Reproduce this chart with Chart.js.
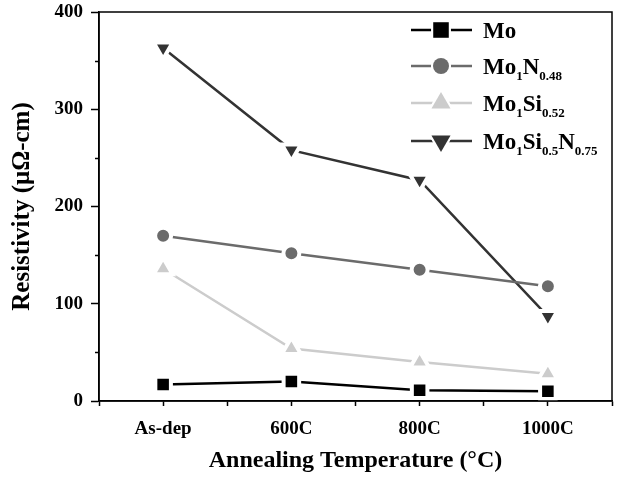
<!DOCTYPE html>
<html>
<head>
<meta charset="utf-8">
<script src="https://cdn.jsdelivr.net/npm/chart.js@4"></script>
<style>
  html, body { margin: 0; padding: 0; background: #fff; overflow: hidden; width: 617px; height: 479px; position: relative; }
  #wrap { position: absolute; left: 0; top: -3px; width: 627px; height: 482px; }
</style>
</head>
<body>
<div id="wrap"><canvas id="myChart"></canvas></div>
<script>
// 데이터 ----------------------------------------------
const categories = ['As-dep', '600C', '800C', '1000C'];
const moVals     = [17, 20, 11, 10];
const monVals    = [170, 152, 135, 118];
const mosiVals   = [136, 54, 40, 28];
const mosinVals  = [363, 258, 227, 87];
const yTicks     = [0, 100, 200, 300, 400];

// 범례 글자 (본문 + 아래첨자)
const legendParts = [
  [['Mo', 0]],
  [['Mo', 0], ['1', 1], ['N', 0], ['0.48', 1]],
  [['Mo', 0], ['1', 1], ['Si', 0], ['0.52', 1]],
  [['Mo', 0], ['1', 1], ['Si', 0], ['0.5', 1], ['N', 0], ['0.75', 1]]
];

const FONT = "'Liberation Serif', 'Times New Roman', serif";
const ctx = document.getElementById('myChart');

function pts(arr){ return arr.map((v,i) => ({ x: i, y: v })) }

function ds(label, arr, color, style, r, rot){
  return {
    label: label,
    data: pts(arr),
    borderColor: color,
    backgroundColor: color,
    borderWidth: 2.5,
    pointStyle: style,
    pointRadius: r,
    pointRotation: rot || 0,
    pointBackgroundColor: color,
    pointBorderColor: '#fff',
    pointBorderWidth: 4,
    tension: 0
  }
}

// 테두리 + 작은눈금 + 범례 직접 그리기
const extras = {
  id: 'extras',
  afterDraw(chart){
    const c = chart.ctx, a = chart.chartArea;
    c.save();
    c.strokeStyle = '#000';
    c.lineWidth = 1.5;
    c.strokeRect(a.left, a.top, a.right - a.left, a.bottom - a.top);
    // y 작은 눈금
    const ys = chart.scales.y;
    [50, 150, 250, 350].forEach(v => {
      const p = Math.round(ys.getPixelForValue(v)) + 0.5;
      c.beginPath(); c.moveTo(a.left - 4, p); c.lineTo(a.left, p); c.stroke();
    });
    // 범례 (캔버스가 3px 위로 올라가 있음)
    const lx1 = 411, lx2 = 472, mx = 441, tx = 483;
    const rows = [33, 69, 106, 144];
    chart.data.datasets.forEach((d, i) => {
      const y = rows[i];
      c.strokeStyle = d.borderColor;
      c.lineWidth = d.borderWidth;
      c.beginPath(); c.moveTo(lx1, y); c.lineTo(lx2, y); c.stroke();
      c.fillStyle = d.pointBackgroundColor;
      c.strokeStyle = '#fff';
      c.lineWidth = d.pointBorderWidth;
      Chart.helpers.drawPoint(c, { pointStyle: d.pointStyle, radius: d.pointRadius, rotation: d.pointRotation, borderWidth: d.pointBorderWidth }, mx, y);
      c.fill(); c.stroke();
      Chart.helpers.drawPoint(c, { pointStyle: d.pointStyle, radius: d.pointRadius, rotation: d.pointRotation, borderWidth: 0 }, mx, y);
      c.fillStyle = '#000';
      c.textBaseline = 'alphabetic';
      let x = tx;
      legendParts[i].forEach(([t, sub]) => {
        c.font = sub ? 'bold 13px ' + FONT : 'bold 23px ' + FONT;
        c.fillText(t, x, sub ? y + 14 : y + 8);
        x += c.measureText(t).width;
      });
    });
    c.restore();
  }
};

new Chart(ctx, {
  type: 'line',
  data: {
    datasets: [
      ds('Mo', moVals, '#000000', 'rect', 11),
      ds('Mo1N0.48', monVals, '#6b6b6b', 'circle', 8),
      ds('Mo1Si0.52', mosiVals, '#cccccc', 'triangle', 11),
      ds('Mo1Si0.5N0.75', mosinVals, '#333333', 'triangle', 11, 180)
    ]
  },
  options: {
    responsive: true,
    maintainAspectRatio: false,
    animation: false,
    layout: { padding: 0 },
    plugins: { legend: { display: false }, tooltip: { enabled: false } },
    scales: {
      x: {
        type: 'linear',
        min: -0.5, max: 3.5,
        afterFit: s => { s.height = 78 },
        afterBuildTicks: s => { s.ticks = [-0.5,0,0.5,1,1.5,2,2.5,3,3.5].map(v => ({ value: v })) },
        ticks: {
          autoSkip: false, maxRotation: 0, padding: 12, color: '#000',
          font: { family: FONT, size: 19, weight: 'bold' },
          callback: v => Number.isInteger(v) ? categories[v] : ''
        },
        grid: { drawOnChartArea: false, drawTicks: true, tickLength: 5, tickColor: '#000', tickWidth: 1.5 },
        border: { display: true, color: '#000', width: 1.5 },
        title: {
          display: true, text: 'Annealing Temperature (°C)', color: '#000',
          font: { family: FONT, size: 24, weight: 'bold' },
          padding: { top: 0, bottom: 4 }
        }
      },
      y: {
        min: 0, max: 400,
        afterFit: s => { s.width = 99; s.paddingTop = 0; s.paddingBottom = 0 },
        afterBuildTicks: s => { s.ticks = yTicks.map(v => ({ value: v })) },
        ticks: {
          padding: 8, color: '#000',
          font: { family: FONT, size: 19, weight: 'bold' }
        },
        grid: { drawOnChartArea: false, drawTicks: true, tickLength: 8, tickColor: '#000', tickWidth: 1.5 },
        border: { display: true, color: '#000', width: 1.5 },
        title: {
          display: true, text: 'Resistivity (μΩ-cm)', color: '#000',
          font: { family: FONT, size: 25, weight: 'bold' },
          padding: { top: 8, bottom: 0 }
        }
      }
    }
  },
  plugins: [extras]
});
</script>
</body>
</html>
